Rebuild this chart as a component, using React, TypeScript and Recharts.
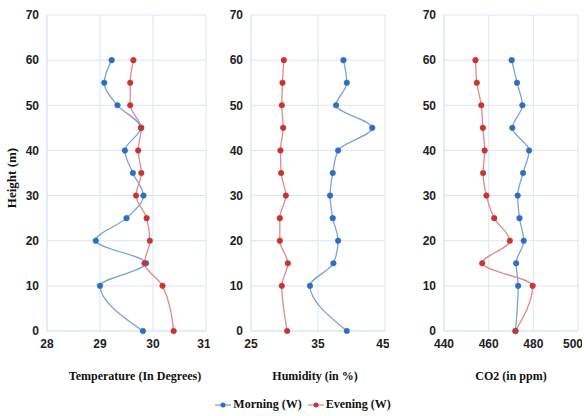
// Three vertical profiles (temperature, humidity, CO2) against height, morning vs evening.
import { LineChart, Line, XAxis, YAxis, CartesianGrid } from "recharts";

const heights = [0, 10, 15, 20, 25, 30, 35, 40, 45, 50, 55, 60];

const tempMorning = [29.81, 29.0, 29.87, 28.92, 29.5, 29.82, 29.62, 29.47, 29.77, 29.33, 29.08, 29.22];
const tempEvening = [30.39, 30.18, 29.84, 29.94, 29.88, 29.68, 29.78, 29.72, 29.78, 29.57, 29.57, 29.63];

const humMorning = [39.3, 33.8, 37.3, 38.0, 37.2, 36.8, 37.2, 38.0, 43.1, 37.7, 39.3, 38.8];
const humEvening = [30.4, 29.6, 30.5, 29.3, 29.3, 30.2, 29.5, 29.4, 29.8, 29.6, 29.7, 29.9];

const co2Morning = [472, 473.2, 472.3, 475.7, 473.8, 473, 475.4, 478.1, 470.6, 475.1, 472.7, 470.3];
const co2Evening = [472, 479.7, 457.1, 469.5, 462.5, 459, 457.5, 458.2, 457.4, 456.7, 454.7, 454.1];

const heightTicks = [0, 10, 20, 30, 40, 50, 60, 70];
const tempTicks = [28, 29, 30, 31];
const humTicks = [25, 35, 45];
const co2Ticks = [440, 460, 480, 500];

const GRID = "#d9e5f6";
const BLUE_LINE = "#7aa3d8";
const BLUE_DOT = "#2f6dbf";
const RED_LINE = "#de8a8a";
const RED_DOT = "#c83431";
const tickStyle = { fontSize: 12, fontWeight: 700, fill: "#222", fontFamily: "'Liberation Sans', Arial, sans-serif" };
const serifBold = { fontFamily: "'Liberation Serif', 'Times New Roman', serif", fontWeight: 700, fontSize: 12, color: "#111" };

function Panel({
  left,
  width,
  morning,
  evening,
  domain,
  ticks,
}: {
  left: number;
  width: number;
  morning: number[];
  evening: number[];
  domain: [number, number];
  ticks: number[];
}) {
  const data = heights.map((h, i) => ({ h, morning: morning[i], evening: evening[i] }));
  return (
    <div style={{ position: "absolute", left, top: 0 }}>
      <LineChart
        layout="vertical"
        width={width}
        height={360}
        data={data}
        margin={{ top: 15, right: 4, bottom: 0, left: 0 }}
      >
        <CartesianGrid stroke={GRID} strokeWidth={1} />
        <XAxis
          type="number"
          domain={domain}
          ticks={ticks}
          allowDataOverflow
          height={29}
          tick={tickStyle}
          tickLine={false}
          axisLine={{ stroke: GRID }}
        />
        <YAxis
          type="number"
          dataKey="h"
          domain={[0, 70]}
          ticks={heightTicks}
          reversed
          width={47}
          tick={tickStyle}
          tickLine={false}
          axisLine={{ stroke: GRID }}
        />
        <Line
          dataKey="morning"
          type="monotone"
          stroke={BLUE_LINE}
          strokeWidth={1.3}
          dot={{ r: 2.8, fill: BLUE_DOT, stroke: BLUE_DOT, strokeWidth: 0.5 }}
          isAnimationActive={false}
        />
        <Line
          dataKey="evening"
          type="monotone"
          stroke={RED_LINE}
          strokeWidth={1.3}
          dot={{ r: 2.8, fill: RED_DOT, stroke: RED_DOT, strokeWidth: 0.5 }}
          isAnimationActive={false}
        />
      </LineChart>
    </div>
  );
}

function LegendItem({ color, line, label }: { color: string; line: string; label: string }) {
  return (
    <span style={{ display: "inline-flex", alignItems: "center", marginRight: 6 }}>
      <svg width={16} height={8} style={{ marginRight: 2 }}>
        <line x1={0} y1={4} x2={16} y2={4} stroke={line} strokeWidth={1.3} />
        <circle cx={8} cy={4} r={2.5} fill={color} />
      </svg>
      {label}
    </span>
  );
}

export default function App() {
  return (
    <div style={{ position: "absolute", left: 0, top: 0, width: 588, height: 416, background: "#fff" }}>
      <Panel left={0} width={210} morning={tempMorning} evening={tempEvening} domain={[28, 31]} ticks={tempTicks} />
      <Panel left={204} width={185} morning={humMorning} evening={humEvening} domain={[25, 45]} ticks={humTicks} />
      <Panel left={397} width={185} morning={co2Morning} evening={co2Evening} domain={[440, 500]} ticks={co2Ticks} />

      <div
        style={{
          ...serifBold,
          fontSize: 13,
          position: "absolute",
          left: 12,
          top: 178,
          transform: "translate(-50%, -50%) rotate(-90deg)",
          whiteSpace: "nowrap",
        }}
      >
        Height (m)
      </div>

      {[
        { text: "Temperature (In Degrees)", cx: 135 },
        { text: "Humidity (in %)", cx: 315 },
        { text: "CO2 (in ppm)", cx: 511 },
      ].map((t) => (
        <div
          key={t.text}
          style={{
            ...serifBold,
            position: "absolute",
            left: t.cx,
            top: 376,
            transform: "translate(-50%, -50%)",
            whiteSpace: "nowrap",
          }}
        >
          {t.text}
        </div>
      ))}

      <div
        style={{
          ...serifBold,
          position: "absolute",
          left: 0,
          width: 612,
          top: 397,
          textAlign: "center",
          display: "flex",
          justifyContent: "center",
        }}
      >
        <LegendItem color={BLUE_DOT} line={BLUE_LINE} label="Morning (W)" />
        <LegendItem color={RED_DOT} line={RED_LINE} label="Evening (W)" />
      </div>
    </div>
  );
}
